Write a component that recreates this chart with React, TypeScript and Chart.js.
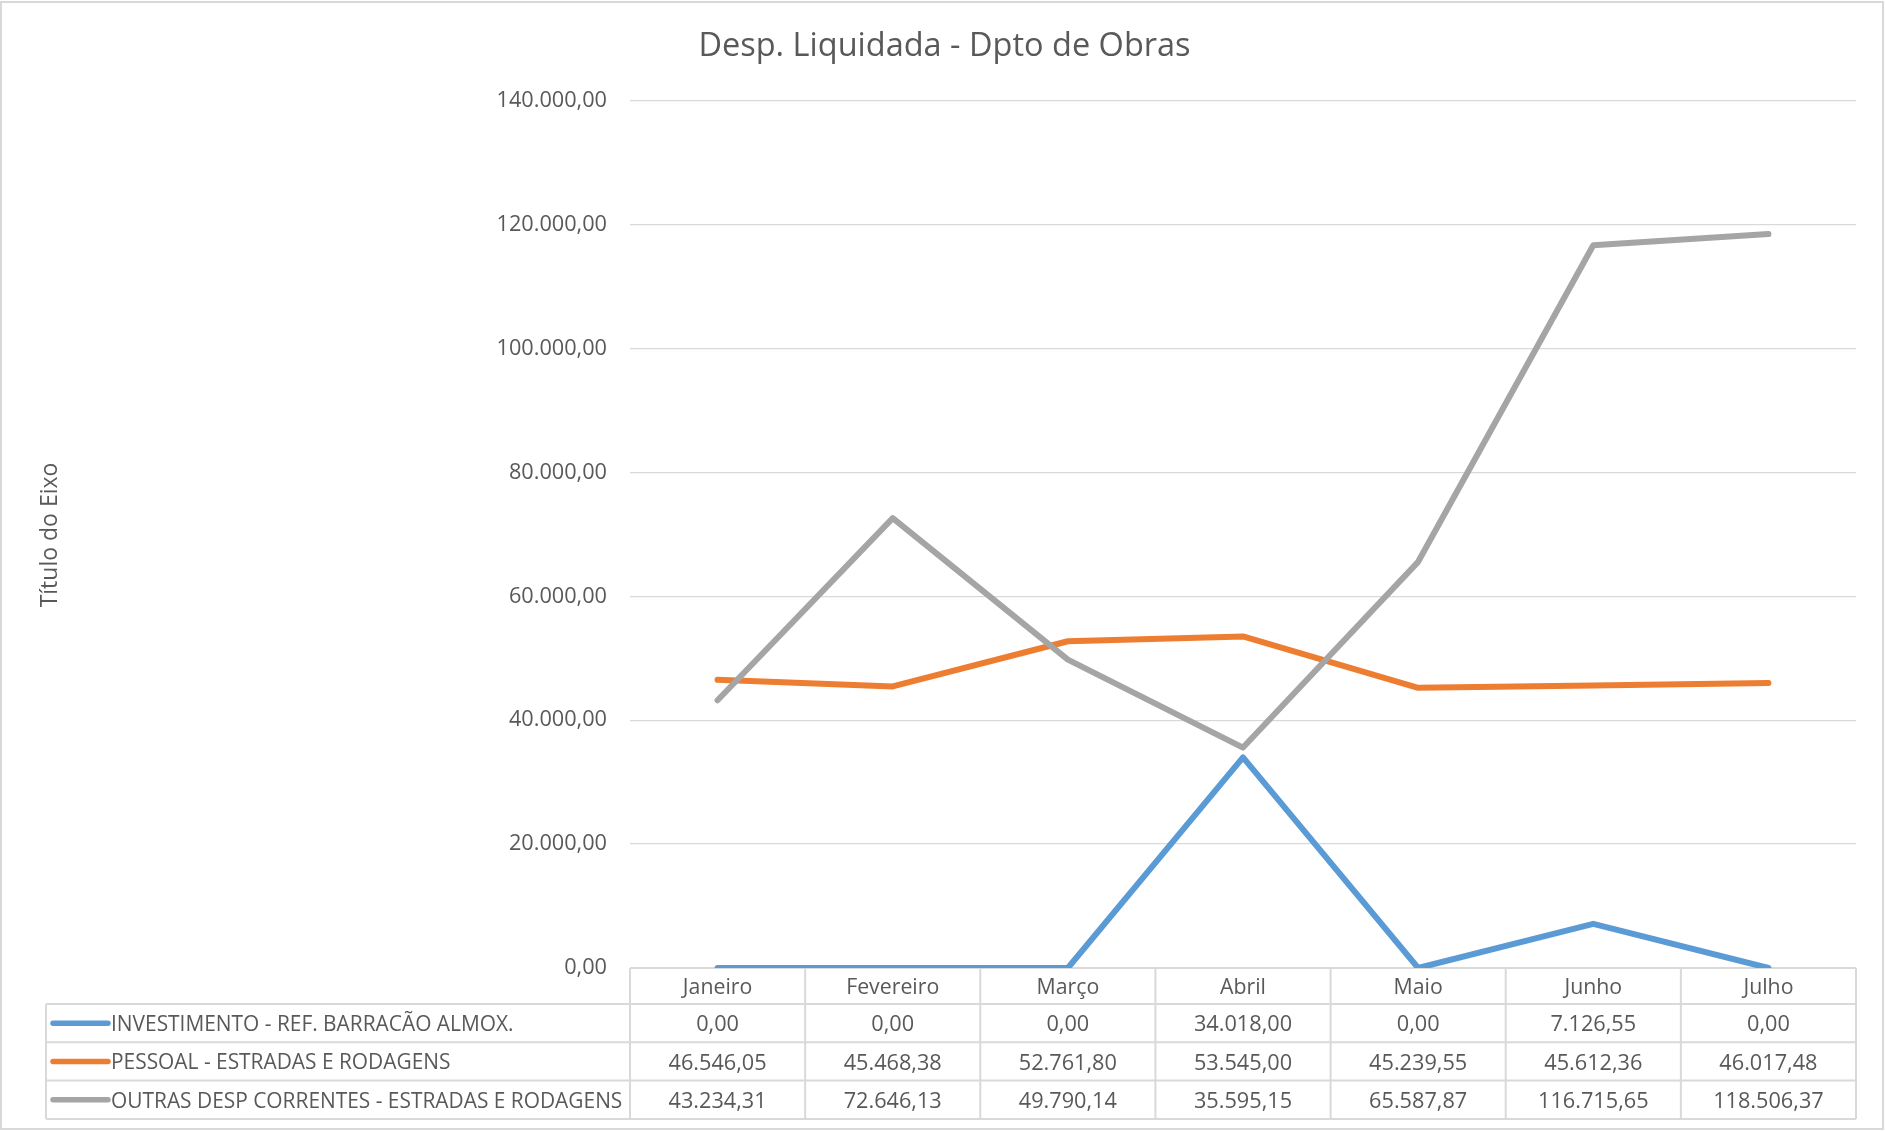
import React, { useEffect, useRef } from "react";
import { Chart, registerables } from "chart.js";

Chart.register(...registerables);

const categories = ["Janeiro", "Fevereiro", "Março", "Abril", "Maio", "Junho", "Julho"];
const investimento = [0, 0, 0, 34018.0, 0, 7126.55, 0];
const pessoal = [46546.05, 45468.38, 52761.8, 53545.0, 45239.55, 45612.36, 46017.48];
const outras = [43234.31, 72646.13, 49790.14, 35595.15, 65587.87, 116715.65, 118506.37];
const seriesNames = [
  "INVESTIMENTO - REF. BARRACÃO ALMOX.",
  "PESSOAL - ESTRADAS E RODAGENS",
  "OUTRAS DESP CORRENTES - ESTRADAS E RODAGENS",
];
const seriesColors = ["#5B9BD5", "#ED7D31", "#A5A5A5"];
const seriesValues = [investimento, pessoal, outras];
const yMin = 0;
const yMax = 140000;
const yStep = 20000;
const chartTitle = "Desp. Liquidada - Dpto de Obras";
const axisTitle = "Título do Eixo";

const FONT = "'Open Sans', sans-serif";
const TEXT = "#595959";
const GRID = "#d9d9d9";

function fmt(v: number): string {
  const s = Math.abs(v).toFixed(2);
  const [i, d] = s.split(".");
  return (v < 0 ? "-" : "") + i.replace(/\B(?=(\d{3})+(?!\d))/g, ".") + "," + d;
}

const tablePlugin = {
  id: "dataTable",
  beforeDatasetsDraw(chart: any) {
    const { ctx, chartArea } = chart;
    const left = chartArea.left;
    const right = chartArea.right;
    const top = chartArea.bottom;
    const n = categories.length;
    const colW = (right - left) / n;
    const catH = 36;
    const rowH = 38.3;
    const tableLeft = 46;
    const rowTops = [top, top + catH, top + catH + rowH, top + catH + 2 * rowH, top + catH + 3 * rowH];
    ctx.save();
    ctx.strokeStyle = GRID;
    ctx.lineWidth = 2;
    ctx.beginPath();
    ctx.moveTo(left, rowTops[0]);
    ctx.lineTo(right, rowTops[0]);
    for (let r = 1; r < rowTops.length; r++) {
      ctx.moveTo(tableLeft, rowTops[r]);
      ctx.lineTo(right, rowTops[r]);
    }
    for (let c = 0; c <= n; c++) {
      const x = left + c * colW;
      ctx.moveTo(x, rowTops[0]);
      ctx.lineTo(x, rowTops[4]);
    }
    ctx.moveTo(tableLeft, rowTops[1]);
    ctx.lineTo(tableLeft, rowTops[4]);
    ctx.stroke();

    ctx.fillStyle = TEXT;
    ctx.textAlign = "center";
    ctx.textBaseline = "middle";
    for (let c = 0; c < n; c++) {
      const cx = left + (c + 0.5) * colW;
      ctx.font = `21.3px ${FONT}`;
      ctx.fillText(categories[c], cx, (rowTops[0] + rowTops[1]) / 2 + 1.5);
      ctx.font = `21.7px ${FONT}`;
      for (let s = 0; s < seriesValues.length; s++) {
        ctx.fillText(fmt(seriesValues[s][c]), cx, (rowTops[s + 1] + rowTops[s + 2]) / 2 + 2);
      }
    }
    ctx.textAlign = "left";
    ctx.font = `20.9px ${FONT}`;
    for (let s = 0; s < seriesNames.length; s++) {
      const cy = (rowTops[s + 1] + rowTops[s + 2]) / 2;
      ctx.strokeStyle = seriesColors[s];
      ctx.lineWidth = 5.5;
      ctx.lineCap = "round";
      ctx.beginPath();
      ctx.moveTo(53, cy);
      ctx.lineTo(108, cy);
      ctx.stroke();
      ctx.fillStyle = TEXT;
      ctx.fillText(seriesNames[s], 111, cy + 2);
    }
    ctx.restore();
  },
  afterDraw(chart: any) {
    const { ctx, width, height } = chart;
    ctx.save();
    ctx.fillStyle = TEXT;
    ctx.textAlign = "center";
    ctx.textBaseline = "middle";
    ctx.font = `32.5px ${FONT}`;
    ctx.fillText(chartTitle, width / 2 + 2, 47);
    ctx.font = `23px ${FONT}`;
    ctx.translate(50, 535);
    ctx.rotate(-Math.PI / 2);
    ctx.fillText(axisTitle, 0, 0);
    ctx.restore();
    ctx.save();
    ctx.strokeStyle = GRID;
    ctx.lineWidth = 2;
    ctx.strokeRect(1, 2, width - 3, height - 4);
    ctx.restore();
  },
};

export default function App() {
  const ref = useRef<HTMLCanvasElement | null>(null);
  useEffect(() => {
    document.body.style.margin = "0";
    const canvas = ref.current;
    if (!canvas) return;
    const chart = new Chart(canvas, {
      type: "line",
      data: {
        labels: categories,
        datasets: seriesNames.map((name, i) => ({
          label: name,
          data: seriesValues[i],
          borderColor: seriesColors[i],
          backgroundColor: seriesColors[i],
          borderWidth: 6,
          pointRadius: 0,
          tension: 0,
          borderCapStyle: "round" as const,
          borderJoinStyle: "round" as const,
          order: seriesNames.length - i,
        })),
      },
      options: {
        responsive: false,
        animation: false,
        devicePixelRatio: 1,
        layout: { padding: { left: 0, right: 29, top: 101, bottom: 163 } },
        plugins: {
          legend: { display: false },
          title: { display: false },
          tooltip: { enabled: false },
        },
        scales: {
          x: { type: "category", display: false, offset: true },
          y: {
            min: yMin,
            max: yMax,
            ticks: {
              stepSize: yStep,
              padding: 23,
              color: TEXT,
              font: { family: FONT, size: 21.7 },
              callback: (v: any) => fmt(Number(v)),
            },
            grid: { color: GRID, drawTicks: false, lineWidth: 1.3 },
            border: { display: false },
            afterFit(scale: any) {
              scale.width = 630;
            },
          },
        },
      },
      plugins: [tablePlugin],
    });
    return () => chart.destroy();
  }, []);
  return (
    <canvas
      ref={ref}
      width={1885}
      height={1131}
      style={{ display: "block", width: 1885, height: 1131 }}
    />
  );
}
